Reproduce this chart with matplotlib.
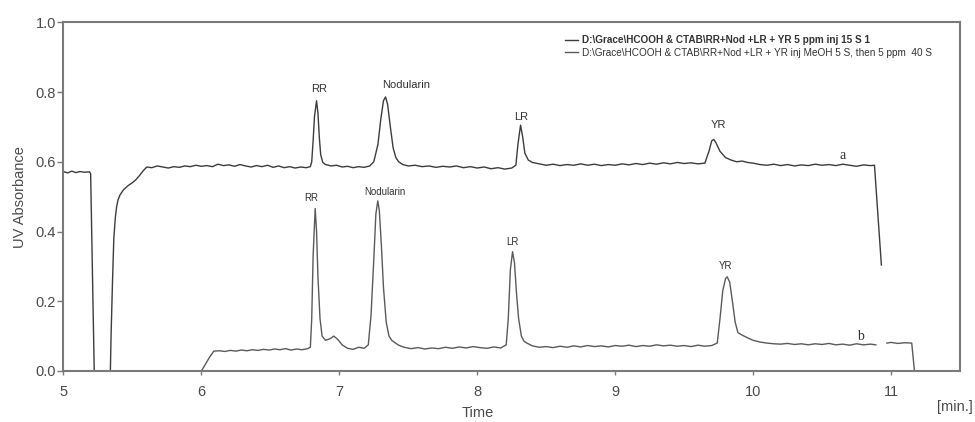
import matplotlib
matplotlib.use('Agg')
import matplotlib.pyplot as plt
import numpy as np

plt.rcParams['font.family'] = ['Liberation Sans', 'DejaVu Sans']

# trace a (upper run)
t_a = [5.00, 5.03, 5.06, 5.09, 5.12, 5.15, 5.19, 5.197, 5.223, 5.34,
       5.345, 5.355, 5.365, 5.376, 5.385, 5.395, 5.41, 5.436, 5.47, 5.50,
       5.524, 5.55, 5.58, 5.604, 5.64, 5.68, 5.72, 5.76, 5.80, 5.84,
       5.88, 5.92, 5.96, 6.00, 6.04, 6.08, 6.12, 6.16, 6.20, 6.24,
       6.28, 6.32, 6.36, 6.40, 6.44, 6.48, 6.52, 6.56, 6.60, 6.64,
       6.68, 6.72, 6.76, 6.79, 6.80, 6.81, 6.82, 6.835, 6.845, 6.855,
       6.865, 6.88, 6.90, 6.94, 6.98, 7.02, 7.06, 7.10, 7.14, 7.18,
       7.22, 7.25, 7.28, 7.30, 7.32, 7.335, 7.35, 7.37, 7.39, 7.41,
       7.43, 7.46, 7.50, 7.55, 7.60, 7.65, 7.70, 7.75, 7.80, 7.85,
       7.90, 7.95, 8.00, 8.05, 8.10, 8.15, 8.20, 8.25, 8.28, 8.295,
       8.314, 8.33, 8.345, 8.37, 8.40, 8.45, 8.50, 8.55, 8.60, 8.65,
       8.70, 8.75, 8.80, 8.85, 8.90, 8.95, 9.00, 9.05, 9.10, 9.15,
       9.20, 9.25, 9.30, 9.35, 9.40, 9.45, 9.50, 9.55, 9.60, 9.65,
       9.68, 9.70, 9.715, 9.73, 9.76, 9.80, 9.84, 9.88, 9.92, 9.96,
       10.00, 10.05, 10.10, 10.15, 10.20, 10.25, 10.30, 10.35, 10.40, 10.45,
       10.50, 10.55, 10.60, 10.65, 10.70, 10.75, 10.80, 10.85, 10.88, 10.93]
abs_a = [0.572, 0.568, 0.573, 0.569, 0.572, 0.570, 0.571, 0.565, 0.0, 0.0,
         0.10, 0.25, 0.38, 0.44, 0.47, 0.49, 0.505, 0.52, 0.532, 0.540,
         0.548, 0.560, 0.575, 0.585, 0.583, 0.588, 0.585, 0.582, 0.586, 0.584,
         0.588, 0.586, 0.590, 0.587, 0.589, 0.586, 0.593, 0.589, 0.591, 0.587,
         0.592, 0.588, 0.585, 0.589, 0.586, 0.590, 0.584, 0.588, 0.583, 0.586,
         0.582, 0.585, 0.583, 0.586, 0.600, 0.660, 0.730, 0.775, 0.740, 0.670,
         0.620, 0.598, 0.592, 0.588, 0.590, 0.585, 0.587, 0.583, 0.586, 0.584,
         0.588, 0.600, 0.650, 0.720, 0.775, 0.786, 0.765, 0.700, 0.640, 0.612,
         0.600, 0.592, 0.588, 0.590, 0.586, 0.588, 0.584, 0.587, 0.585, 0.588,
         0.583, 0.586, 0.582, 0.585, 0.580, 0.583, 0.579, 0.582, 0.590, 0.650,
         0.705, 0.670, 0.625, 0.605, 0.598, 0.594, 0.590, 0.593, 0.589, 0.592,
         0.590, 0.594, 0.590, 0.593, 0.589, 0.592, 0.590, 0.594, 0.591, 0.595,
         0.592, 0.596, 0.593, 0.597, 0.594, 0.598, 0.595, 0.597, 0.594, 0.596,
         0.630, 0.660, 0.664, 0.655, 0.630, 0.612, 0.605, 0.600, 0.602, 0.598,
         0.596, 0.592, 0.590, 0.593, 0.589, 0.592, 0.588, 0.591, 0.589, 0.593,
         0.590, 0.592, 0.589, 0.593, 0.590, 0.587, 0.591, 0.589, 0.590, 0.304]

# trace b (lower run), NaN = gap in the recorded trace
t_b = [6.00, 6.03, 6.06, 6.09, 6.13, 6.17, 6.21, 6.25, 6.29, 6.33,
       6.37, 6.41, 6.45, 6.49, 6.53, 6.57, 6.61, 6.65, 6.69, 6.73,
       6.77, 6.79, 6.80, 6.81, 6.825, 6.835, 6.845, 6.86, 6.875, 6.90,
       6.93, 6.96, 6.99, 7.02, 7.06, 7.10, 7.14, 7.18, 7.21, 7.23,
       7.25, 7.265, 7.279, 7.29, 7.305, 7.32, 7.34, 7.36, 7.38, 7.40,
       7.43, 7.47, 7.52, 7.57, 7.62, 7.67, 7.72, 7.77, 7.82, 7.87,
       7.92, 7.97, 8.02, 8.07, 8.12, 8.17, 8.21, 8.225, 8.24, 8.256,
       8.27, 8.285, 8.30, 8.32, 8.34, 8.36, 8.40, 8.45, 8.50, 8.55,
       8.60, 8.65, 8.70, 8.75, 8.80, 8.85, 8.90, 8.95, 9.00, 9.05,
       9.10, 9.15, 9.20, 9.25, 9.30, 9.35, 9.40, 9.45, 9.50, 9.55,
       9.60, 9.65, 9.70, 9.74, 9.76, 9.78, 9.80, 9.812, 9.83, 9.85,
       9.87, 9.89, 9.92, 9.96, 10.00, 10.05, 10.10, 10.15, 10.20, 10.25,
       10.30, 10.35, 10.40, 10.45, 10.50, 10.55, 10.60, 10.65, 10.70, 10.75,
       10.80, 10.85, 10.89, 10.93, 10.97, 11.00, 11.05, 11.10, 11.15, 11.17]
abs_b = [0.0, 0.020, 0.040, 0.057, 0.058, 0.056, 0.059, 0.057, 0.060, 0.058,
         0.061, 0.059, 0.062, 0.060, 0.063, 0.061, 0.064, 0.060, 0.063, 0.061,
         0.064, 0.068, 0.150, 0.330, 0.466, 0.400, 0.270, 0.150, 0.100, 0.088,
         0.092, 0.100, 0.090, 0.075, 0.065, 0.062, 0.068, 0.065, 0.075, 0.160,
         0.320, 0.450, 0.488, 0.460, 0.360, 0.240, 0.140, 0.100, 0.088, 0.082,
         0.074, 0.068, 0.064, 0.067, 0.063, 0.066, 0.064, 0.068, 0.065, 0.069,
         0.066, 0.070, 0.067, 0.065, 0.069, 0.066, 0.075, 0.150, 0.290, 0.342,
         0.310, 0.220, 0.150, 0.100, 0.085, 0.080, 0.072, 0.068, 0.070, 0.067,
         0.071, 0.068, 0.072, 0.069, 0.073, 0.070, 0.072, 0.069, 0.073, 0.071,
         0.074, 0.070, 0.073, 0.071, 0.075, 0.072, 0.074, 0.071, 0.073, 0.070,
         0.074, 0.071, 0.073, 0.080, 0.150, 0.230, 0.265, 0.270, 0.255, 0.200,
         0.140, 0.110, 0.103, 0.095, 0.088, 0.083, 0.080, 0.078, 0.077, 0.079,
         0.076, 0.078, 0.075, 0.078, 0.076, 0.079, 0.075, 0.077, 0.074, 0.078,
         0.075, 0.077, 0.075, np.nan, 0.080, 0.082, 0.079, 0.081, 0.080, 0.0]

legend_labels = ['D:\\Grace\\HCOOH & CTAB\\RR+Nod +LR + YR 5 ppm inj 15 S 1',
                 'D:\\Grace\\HCOOH & CTAB\\RR+Nod +LR + YR inj MeOH 5 S, then 5 ppm  40 S']

peak_names = ['RR', 'Nodularin', 'LR', 'YR']
peak_x_a = [6.855, 7.487, 8.316, 9.749]
peak_y_a = [0.808, 0.819, 0.729, 0.705]
peak_x_b = [6.80, 7.327, 8.258, 9.80]
peak_y_b = [0.496, 0.513, 0.370, 0.302]

grey = '#7a7a7a'
txt = '#4a4a4a'

fig = plt.figure(figsize=(9.75, 4.22), dpi=100)
ax = fig.add_axes([0.0651, 0.1209, 0.9195, 0.8263])

la, = ax.plot(t_a, abs_a, color='#3c3c3c', lw=1.0)
lb, = ax.plot(t_b, abs_b, color='#5a5a5a', lw=1.0)

ax.set_xlim(5, 11.5)
ax.set_ylim(0, 1.0)
ax.set_xticks([5, 6, 7, 8, 9, 10, 11])
ax.set_yticks([0.0, 0.2, 0.4, 0.6, 0.8, 1.0])
ax.set_yticklabels(['0.0', '0.2', '0.4', '0.6', '0.8', '1.0'])

for s in ax.spines.values():
    s.set_color(grey)
    s.set_linewidth(1.5)
ax.tick_params(axis='x', length=3, width=1, color=grey, pad=7, labelsize=10.5, labelcolor=txt)
ax.tick_params(axis='y', length=4, width=1, color=grey, pad=1.5, labelsize=10.5, labelcolor=txt)

ax.set_ylabel('UV Absorbance', fontsize=10.5, color=txt, labelpad=6)
fig.text(478 / 975, 1 - 413 / 422, 'Time', ha='center', va='center', fontsize=10.5, color=txt)
fig.text(0.998, 1 - 407 / 422, '[min.]', ha='right', va='center', fontsize=10.5, color=txt)

# peak labels
for n, x, y in zip(peak_names, peak_x_a, peak_y_a):
    ax.text(x, y, n, ha='center', va='center', fontsize=8, color='#333333')
for n, x, y in zip(peak_names, peak_x_b, peak_y_b):
    ax.text(x, y, n, ha='center', va='center', fontsize=7, color='#333333')
ax.text(10.65, 0.619, 'a', ha='center', va='center', fontsize=10, color='#333333',
        family='Liberation Serif')
ax.text(10.78, 0.098, 'b', ha='center', va='center', fontsize=10, color='#333333',
        family='Liberation Serif')

leg = ax.legend([la, lb], legend_labels, loc='upper left',
                bbox_to_anchor=(565 / 975, 1 - 35 / 422), bbox_transform=fig.transFigure,
                frameon=False, fontsize=7.2, handlelength=1.3, handletextpad=0.4,
                labelspacing=0.25, borderpad=0, borderaxespad=0)
leg.get_texts()[0].set_fontweight('bold')
for t in leg.get_texts():
    t.set_color('#333333')

fig.savefig('out.png', dpi=100)
